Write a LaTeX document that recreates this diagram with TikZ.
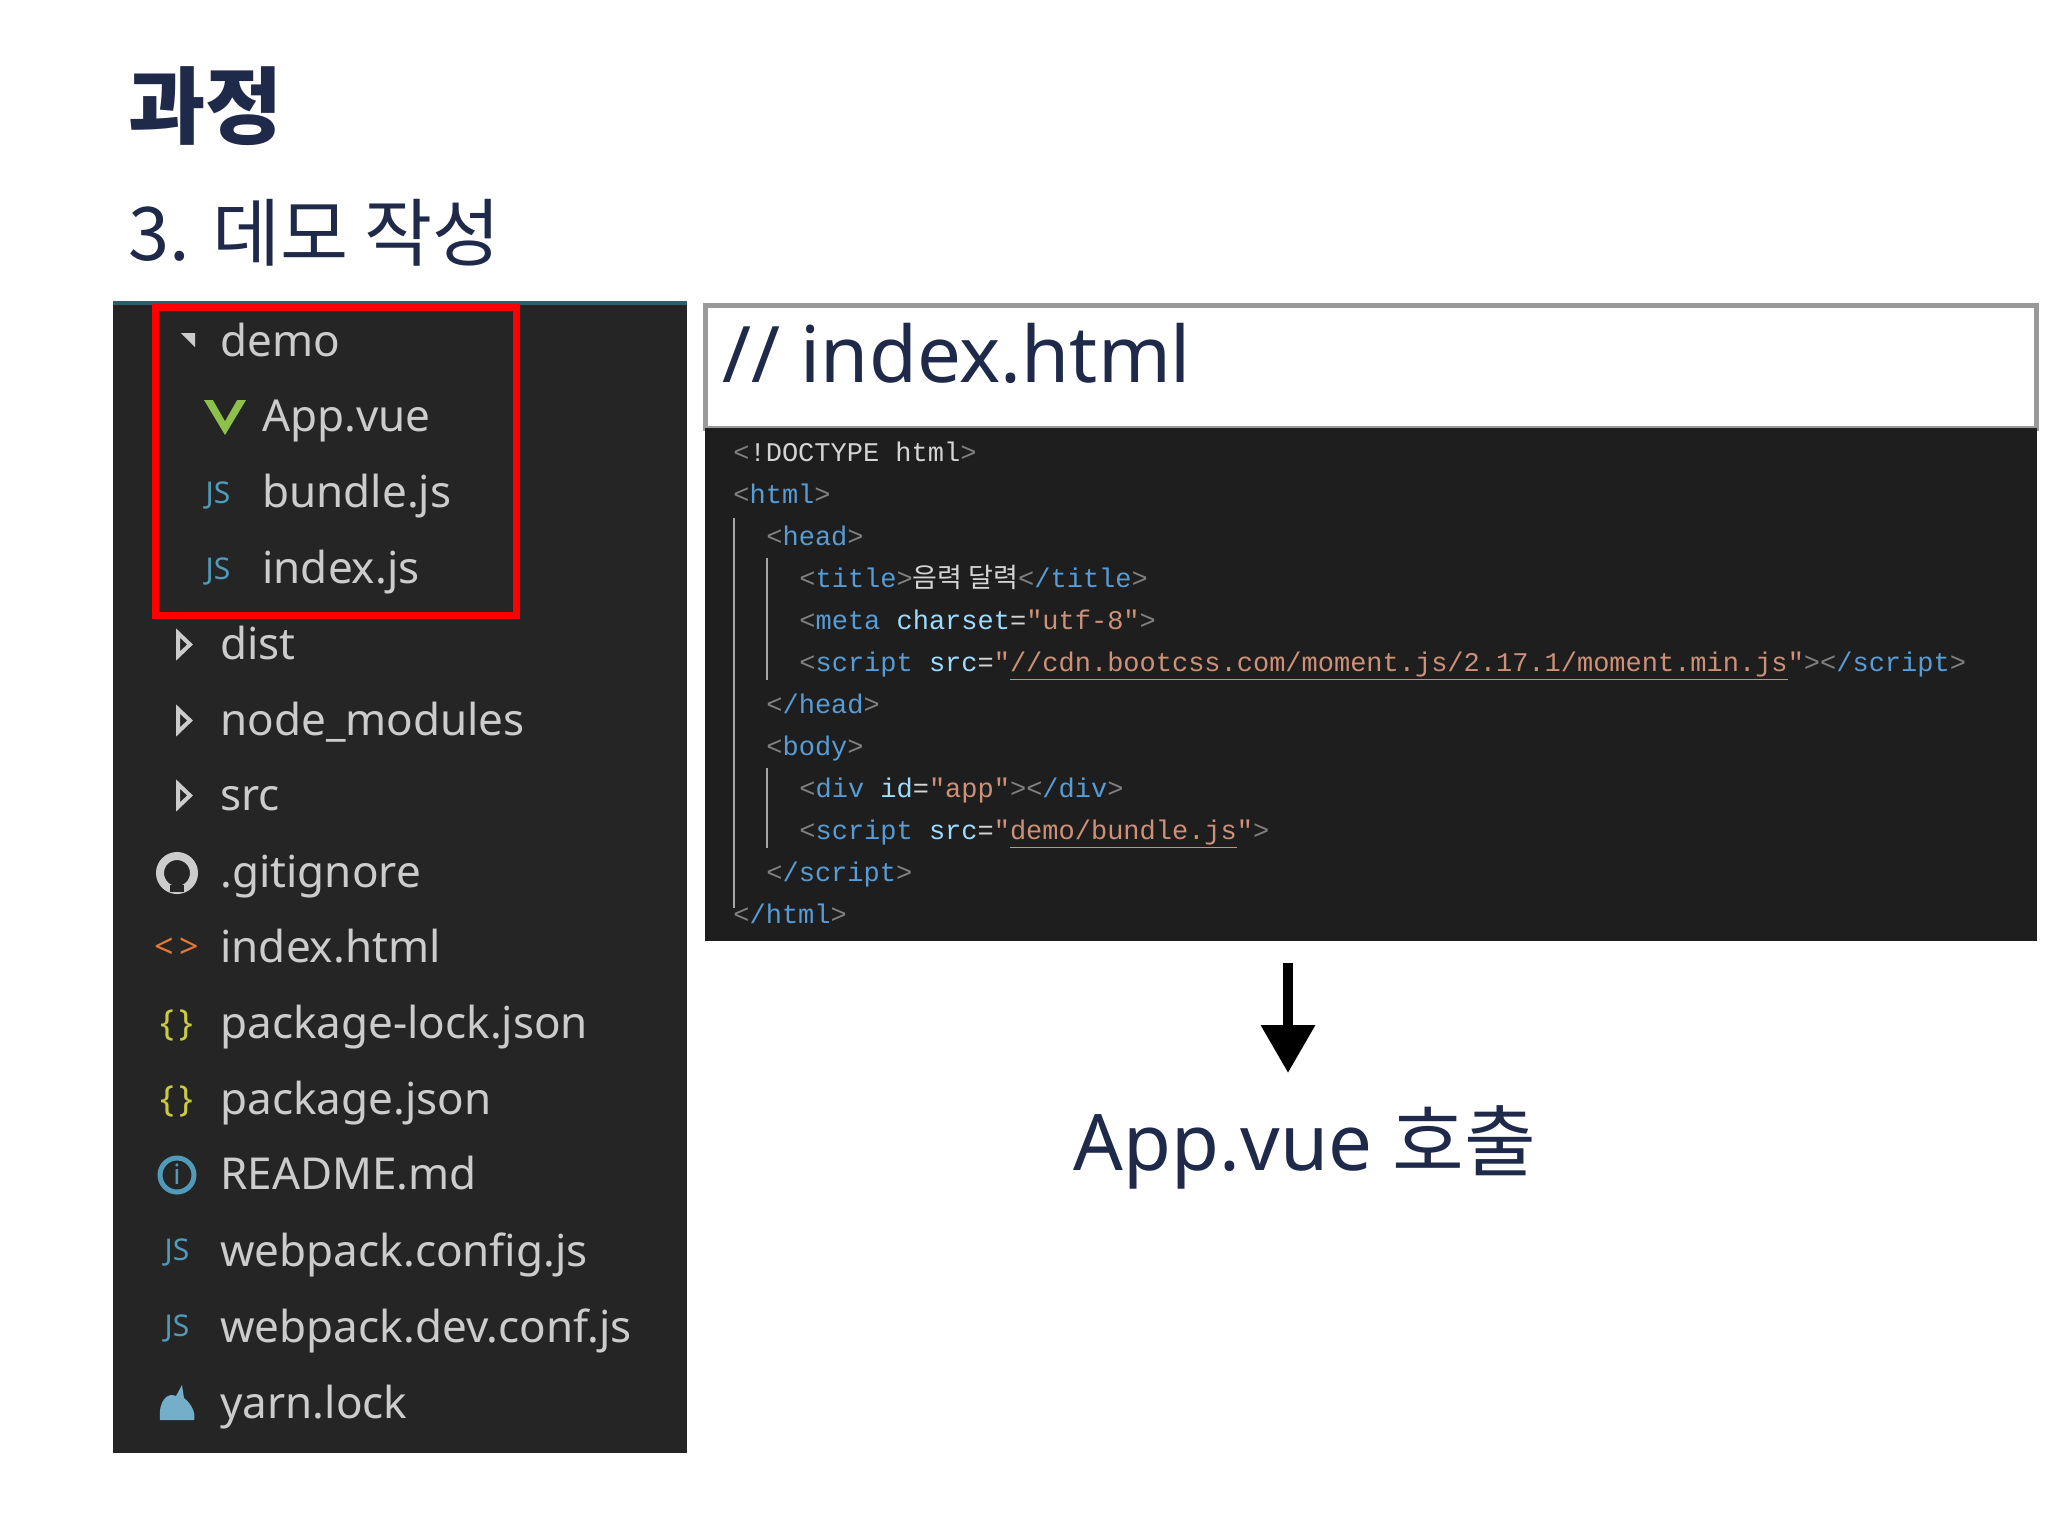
\documentclass[tikz,border=0pt]{standalone}
\usepackage{fontspec}
\setmainfont{Noto Sans}
\newfontfamily\cjk{Noto Sans CJK KR}
\newfontfamily\cmono{Liberation Mono}
\usetikzlibrary{arrows.meta}
\definecolor{navy}{HTML}{1F2A4A}
\definecolor{panel}{HTML}{252526}
\definecolor{codebg}{HTML}{1E1E1E}
\definecolor{tagc}{HTML}{569CD6}
\definecolor{attrc}{HTML}{9CDCFE}
\definecolor{strc}{HTML}{CE9178}
\definecolor{brc}{HTML}{808080}
\definecolor{txtc}{HTML}{D4D4D4}
\definecolor{filec}{HTML}{CCCCCC}
\definecolor{jsc}{HTML}{519ABA}
\definecolor{vuec}{HTML}{8DC149}
\definecolor{jsonc}{HTML}{CBCB41}
\definecolor{htmlc}{HTML}{E37933}
\newcommand{\lt}{\textcolor{brc}{<}}
\newcommand{\gt}{\textcolor{brc}{>}}
\newcommand{\tg}[1]{\textcolor{tagc}{#1}}
\newcommand{\at}[1]{\textcolor{attrc}{#1}}
\newcommand{\st}[1]{\textcolor{strc}{#1}}
\newcommand{\ust}[1]{\textcolor{strc}{\underline{#1}}}
\begin{document}
\begin{tikzpicture}[x=0.5pt,y=-0.5pt,
  file/.style={anchor=base west,inner sep=0,text=filec,font=\fontsize{22}{26}\selectfont},
  codeline/.style={anchor=base west,inner sep=0,text=txtc,font=\cmono\fontsize{13.5}{16}\selectfont},
  ico/.style={anchor=base,inner sep=0,font=\bfseries\fontsize{15}{18}\selectfont},
  tri/.style={fill=filec,draw=none}]
\useasboundingbox (0,0) rectangle (2048,1536);
\fill[white] (0,0) rectangle (2048,1536);
% titles
\node[anchor=base west,inner sep=0,text=navy,font=\cjk\bfseries\fontsize{42}{48}\selectfont] (t1) at (128,137) {과정};
\node[anchor=base west,inner sep=0,text=navy,font=\cjk\fontsize{37}{44}\selectfont] (t2) at (128,260) {3. 데모 작성};
% left panel
\fill[panel] (113,303) rectangle (687,1453);
\draw[color=jsc!60!black,line width=2] (113,303) -- (687,303);
\draw[red,line width=3.5] (155,307) rectangle (516,615);
% tree
\fill[tri] (181,333) -- (195,333) -- (195,347) -- cycle;
\node[file] (f1) at (220,356) {demo};
\fill[vuec] (204,400) -- (215,400) -- (225,418) -- (235,400) -- (246,400) -- (225,435) -- cycle;
\fill[panel] (213,400) -- (218,400) -- (225,412) -- (232,400) -- (237,400) -- (225,421) -- cycle;
\node[file] (f2) at (262,431) {App.vue};
\node[ico,text=jsc] (j1) at (218,503) {JS};
\node[file] (f3) at (262,507) {bundle.js};
\node[ico,text=jsc] (j2) at (218,579) {JS};
\node[file] (f4) at (262,583) {index.js};
\draw[filec,line width=2] (178,633) -- (178,656) -- (190,644.5) -- cycle;
\node[file] (f5) at (220,659) {dist};
\draw[filec,line width=2] (178,709) -- (178,732) -- (190,720.5) -- cycle;
\node[file] (f6) at (220,735) {node\_modules};
\draw[filec,line width=2] (178,784) -- (178,807) -- (190,795.5) -- cycle;
\node[file] (f7) at (220,810) {src};
\draw[filec,line width=4] (177,873) circle (17);
\fill[panel] (170,885) rectangle (184,892);
\node[file] (f8) at (220,887) {.gitignore};
\node[ico,text=htmlc,font=\bfseries\fontsize{17}{20}\selectfont] (h1) at (177,958) {<\,>};
\node[file] (f9) at (220,962) {index.html};
\node[ico,text=jsonc,font=\bfseries\fontsize{18}{20}\selectfont] (k1) at (177,1035) {\{\,\}};
\node[file] (f10) at (220,1038) {package-lock.json};
\node[ico,text=jsonc,font=\bfseries\fontsize{18}{20}\selectfont] (k2) at (177,1111) {\{\,\}};
\node[file] (f11) at (220,1114) {package.json};
\draw[jsc,line width=2.5] (177,1175) circle (17);
\node[ico,text=jsc,font=\bfseries\fontsize{14}{16}\selectfont] (i1) at (177,1184) {i};
\node[file] (f12) at (220,1189) {README.md};
\node[ico,text=jsc] (j3) at (177,1260) {JS};
\node[file] (f13) at (220,1266) {webpack.config.js};
\node[ico,text=jsc] (j4) at (177,1336) {JS};
\node[file] (f14) at (220,1342) {webpack.dev.conf.js};
\fill[jsc!80!white] (160,1420) .. controls (158,1400) and (168,1392) .. (176,1396) -- (182,1385) -- (184,1398) .. controls (192,1404) and (196,1414) .. (194,1420) -- cycle;
\node[file] (f15) at (220,1418) {yarn.lock};
% code header
\draw[gray!80,line width=2.5,fill=white] (705,305) rectangle (2036,428);
\node[anchor=base west,inner sep=0,text=navy,font=\fontsize{39}{46}\selectfont] (hd) at (722,382) {// index.html};
\fill[codebg] (705,428) rectangle (2037,941);
\draw[brc!70,line width=1] (734,518) -- (734,908);
\draw[brc!70,line width=1] (767,558) -- (767,680);
\draw[brc!70,line width=1] (767,768) -- (767,848);
\node[codeline] (c1) at (733,461) {\lt!DOCTYPE html\gt};
\node[codeline] (c2) at (733,503) {\lt\tg{html}\gt};
\node[codeline] (c3) at (766,545) {\lt\tg{head}\gt};
\node[codeline] (c4) at (799,587) {\lt\tg{title}\gt{\cjk 음력 달력}\lt\tg{/title}\gt};
\node[codeline] (c5) at (799,629) {\lt\tg{meta} \at{charset}=\st{"utf-8"}\gt};
\node[codeline] (c6) at (799,671) {\lt\tg{script} \at{src}=\st{"}\ust{//cdn.bootcss.com/moment.js/2.17.1/moment.min.js}\st{"}\gt\lt\tg{/script}\gt};
\node[codeline] (c7) at (766,713) {\lt\tg{/head}\gt};
\node[codeline] (c8) at (766,755) {\lt\tg{body}\gt};
\node[codeline] (c9) at (799,797) {\lt\tg{div} \at{id}=\st{"app"}\gt\lt\tg{/div}\gt};
\node[codeline] (c10) at (799,839) {\lt\tg{script} \at{src}=\st{"}\ust{demo/bundle.js}\st{"}\gt};
\node[codeline] (c11) at (766,881) {\lt\tg{/script}\gt};
\node[codeline] (c12) at (733,923) {\lt\tg{/html}\gt};
% arrow and label
\coordinate (a1) at (1288,963);
\node[anchor=base,inner sep=0,text=navy,font=\fontsize{39}{46}\selectfont] (res) at (1305,1170) {App.vue {\cjk 호출}};
\coordinate (a2) at (1288,1073);
\draw[line width=5,-{Triangle[length=24,width=26]}] (a1) -- (a2);
\end{tikzpicture}
\end{document}
